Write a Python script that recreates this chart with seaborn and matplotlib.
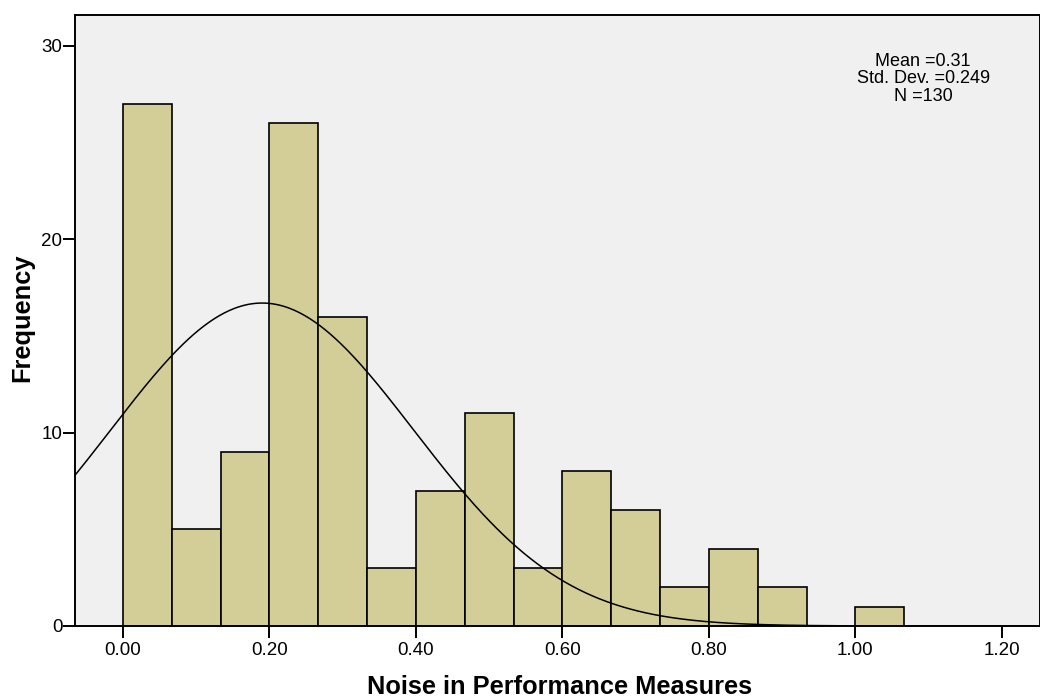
import numpy as np
import pandas as pd
import matplotlib
matplotlib.use("Agg")
import matplotlib.pyplot as plt
import seaborn as sns

# Frequency of each 1/15-wide bin, starting at 0.00
bin_width = 1.0 / 15.0
counts = [27, 5, 9, 26, 16, 3, 7, 11, 3, 8, 6, 2, 4, 2, 0, 1]
x_ticks = [0.0, 0.2, 0.4, 0.6, 0.8, 1.0, 1.2]
x_tick_labels = ["0.00", "0.20", "0.40", "0.60", "0.80", "1.00", "1.20"]
y_ticks = [0, 10, 20, 30]

# Summary statistics shown in the box
stat_mean = 0.31
stat_sd = 0.249
stat_n = 130

# Normal curve overlay parameters
curve_center = 0.19
curve_spread = 0.207

sns.set_theme(style="white")
plt.rcParams["font.family"] = ["Liberation Sans", "DejaVu Sans"]
plt.rcParams["text.color"] = "black"

n_bins = len(counts)
centers = (np.arange(n_bins) + 0.5) * bin_width
df = pd.DataFrame({"noise": centers, "freq": counts})

fig = plt.figure(figsize=(10.4, 7.0), dpi=100)
ax = fig.add_axes([75 / 1040, 1 - 626 / 700, 965 / 1040, 611 / 700])
ax.set_facecolor("#F0F0F0")

sns.histplot(data=df, x="noise", weights="freq", binwidth=bin_width,
             binrange=(0, n_bins * bin_width), ax=ax,
             color="#D3CE97", alpha=1.0, edgecolor="black", linewidth=1.2)

# Normal curve scaled to bin counts
xs = np.linspace(-0.1, 1.3, 600)
ys = stat_n * bin_width / (curve_spread * np.sqrt(2 * np.pi)) * \
    np.exp(-0.5 * ((xs - curve_center) / curve_spread) ** 2)
sns.lineplot(x=xs, y=ys, ax=ax, color="black", linewidth=1.1)

ax.set_xlim(-0.0655, 1.252)
ax.set_ylim(0, 31.6)
ax.set_xticks(x_ticks)
ax.set_xticklabels(x_tick_labels)
ax.set_yticks(y_ticks)
ax.tick_params(axis="both", which="major", direction="out", length=8.5,
               width=1.4, color="black", labelsize=13.5,
               bottom=True, left=True, labelcolor="black")
ax.tick_params(axis="y", pad=0.5)
ax.tick_params(axis="x", pad=3)
for side, sp in ax.spines.items():
    sp.set_visible(True)
    sp.set_color("black")
    sp.set_linewidth(1.4)

ax.set_xlabel("Noise in Performance Measures", fontsize=18.3,
              fontweight="bold", color="black")
ax.set_ylabel("Frequency", fontsize=18.3, fontweight="bold", color="black")
ax.xaxis.label.set_va("center")
ax.yaxis.label.set_va("center")
ax.xaxis.set_label_coords((560 - 75) / 965, (626 - 687) / 611)
ax.yaxis.set_label_coords((22 - 75) / 965, (626 - 318) / 611)

ax.text(0.879, 0.938,
        f"Mean ={stat_mean:.2f}\nStd. Dev. ={stat_sd:.3f}\nN ={stat_n}",
        transform=ax.transAxes, ha="center", va="top", fontsize=13,
        linespacing=1.03, color="black")

fig.savefig("out.png", dpi=100)
